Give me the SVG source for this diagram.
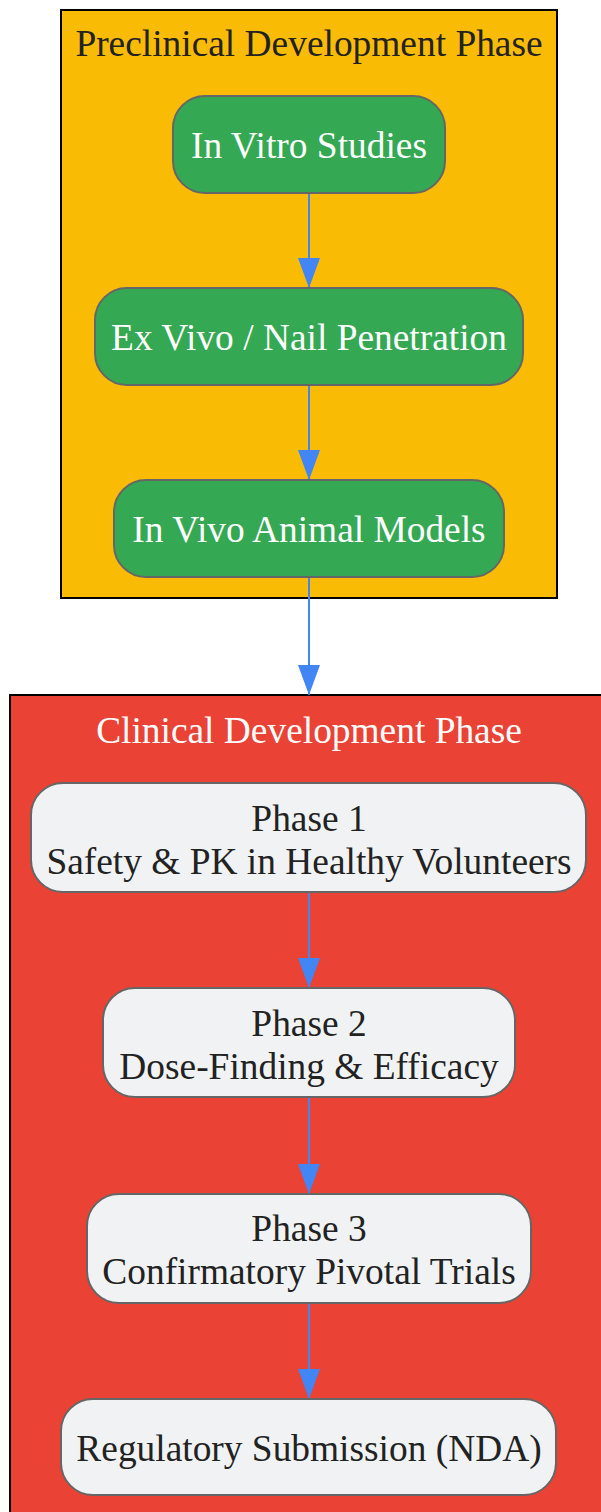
<svg xmlns="http://www.w3.org/2000/svg" width="601" height="1512" viewBox="0 0 601 1512">
<defs>
<style>
.t{font-family:"Liberation Serif","Times New Roman",serif;font-size:37.4px;text-anchor:middle}
.dark{fill:#222222}
.white{fill:#ffffff}
.green{fill:#34A853;stroke:#666666;stroke-width:2}
.light{fill:#F1F2F4;stroke:#666666;stroke-width:2}
.edge{stroke:#4285F4;stroke-width:2;fill:none;marker-end:url(#arr)}
</style>
<marker id="arr" markerUnits="userSpaceOnUse" markerWidth="30" markerHeight="22" refX="30" refY="11" orient="auto" viewBox="0 0 30 22">
<path d="M0,0 L30,11 L0,22 Z" fill="#4285F4"/>
</marker>
</defs>
<rect width="601" height="1512" fill="#ffffff"/>
<g id="cluster-preclinical">
<rect x="61" y="10" width="496" height="588" fill="#FABB05" stroke="#000000" stroke-width="2"/>
<text class="t dark" x="309" y="56">Preclinical Development Phase</text>
</g>
<g id="cluster-clinical">
<rect x="10" y="695" width="600" height="830" fill="#EA4335" stroke="#000000" stroke-width="2"/>
<text class="t white" x="309" y="743">Clinical Development Phase</text>
</g>
<g id="connectors">
<path class="edge" d="M309,193 V288"/>
<path class="edge" d="M309,385 V480"/>
<path class="edge" d="M309,577 V695"/>
<path class="edge" d="M309,892 V988"/>
<path class="edge" d="M309,1097 V1194"/>
<path class="edge" d="M309,1303 V1399"/>
</g>
<g id="n-invitro">
<rect class="green" x="173" y="96" width="272" height="97" rx="32" ry="32"/>
<text class="t white" x="309" y="158">In Vitro Studies</text>
</g>
<g id="n-exvivo">
<rect class="green" x="95" y="288" width="428" height="97" rx="32" ry="32"/>
<text class="t white" x="309" y="350">Ex Vivo / Nail Penetration</text>
</g>
<g id="n-invivo">
<rect class="green" x="114" y="480" width="390" height="97" rx="32" ry="32"/>
<text class="t white" x="309" y="542">In Vivo Animal Models</text>
</g>
<g id="n-phase1">
<rect class="light" x="31" y="783" width="555" height="109" rx="32" ry="32"/>
<text class="t dark" x="309" y="831">Phase 1</text>
<text class="t dark" x="309" y="874">Safety &amp; PK in Healthy Volunteers</text>
</g>
<g id="n-phase2">
<rect class="light" x="103" y="988" width="412" height="109" rx="32" ry="32"/>
<text class="t dark" x="309" y="1036">Phase 2</text>
<text class="t dark" x="309" y="1079">Dose-Finding &amp; Efficacy</text>
</g>
<g id="n-phase3">
<rect class="light" x="87" y="1194" width="444" height="109" rx="32" ry="32"/>
<text class="t dark" x="309" y="1241">Phase 3</text>
<text class="t dark" x="309" y="1284">Confirmatory Pivotal Trials</text>
</g>
<g id="n-nda">
<rect class="light" x="61" y="1399" width="495" height="96" rx="32" ry="32"/>
<text class="t dark" x="309" y="1461">Regulatory Submission (NDA)</text>
</g>
</svg>
